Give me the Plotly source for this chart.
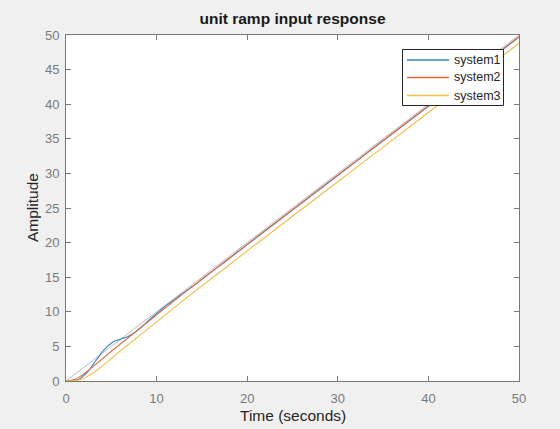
import plotly.graph_objects as go

# Time samples (seconds)
t = [0, 0.5, 1, 1.5, 2, 2.5, 3, 3.5, 4, 4.5, 5, 5.5, 6, 6.5, 7, 7.5, 8, 8.5, 9,
     10, 11, 12, 13, 14, 15, 17.5, 20, 25, 30, 35, 40, 45, 50]

# Unit ramp input (gray)
ramp_t = [0, 50]
ramp_y = [0, 50]

system1 = [0, 0.01, 0.08, 0.3, 0.8, 1.5, 2.4, 3.3, 4.2, 4.9, 5.45, 5.85, 6.05, 6.25,
           6.55, 6.95, 7.45, 8.0, 8.6, 9.75, 10.85, 11.8, 12.75, 13.7, 14.7, 17.2,
           19.7, 24.7, 29.7, 34.7, 39.7, 44.7, 49.7]
system2 = [0, 0.05, 0.25, 0.6, 1.05, 1.55, 2.1, 2.65, 3.2, 3.75, 4.3, 4.8, 5.35, 5.85,
           6.4, 6.9, 7.45, 7.95, 8.5, 9.55, 10.6, 11.65, 12.7, 13.7, 14.7, 17.2,
           19.75, 24.75, 29.75, 34.75, 39.75, 44.75, 49.75]
system3 = [0, 0.01, 0.05, 0.18, 0.4, 0.75, 1.15, 1.65, 2.15, 2.7, 3.25, 3.8, 4.35, 4.85,
           5.4, 5.9, 6.45, 6.95, 7.5, 8.55, 9.6, 10.65, 11.7, 12.75, 13.75, 16.25,
           18.8, 23.8, 28.8, 33.8, 38.8, 43.8, 48.8]

names = ["system1", "system2", "system3"]
colors = ["#2f86cc", "#de6a40", "#f0bd45"]
series = [system1, system2, system3]

x_ticks = [0, 10, 20, 30, 40, 50]
y_ticks = [0, 5, 10, 15, 20, 25, 30, 35, 40, 45, 50]

W, H = 560, 429
L, R, T, B = 66, 41, 35, 48
plot_w = W - L - R
plot_h = H - T - B
FONT = "Liberation Sans, Arial, sans-serif"


def px2x(px):
    return (px - L) / plot_w


def px2y(py):
    return (H - B - py) / plot_h


fig = go.Figure()
fig.add_trace(go.Scatter(x=ramp_t, y=ramp_y, mode="lines",
                         line=dict(color="#b8b8b8", width=1), showlegend=False,
                         hoverinfo="skip"))
for n, c, s in zip(names, colors, series):
    fig.add_trace(go.Scatter(x=t, y=s, mode="lines", name=n, showlegend=False,
                             line=dict(color=c, width=1.1, shape="spline", smoothing=0.6)))

axis_common = dict(
    showgrid=False, zeroline=False, showline=True, linecolor="#7a7a7a", linewidth=1,
    mirror="ticks", ticks="inside", ticklen=5, tickwidth=1, tickcolor="#7a7a7a",
    tickfont=dict(family=FONT, size=13, color="#7a7a7a"),
)

fig.update_layout(
    width=W, height=H,
    margin=dict(l=L, r=R, t=T, b=B),
    paper_bgcolor="#F0F0F0", plot_bgcolor="#FFFFFF",
    font=dict(family=FONT, color="#262626"),
    title=dict(text="<b>unit ramp input response</b>", x=0.5, xref="paper",
               y=1 - 18.5 / H, yref="container", yanchor="middle", xanchor="center",
               font=dict(size=15.5, color="#1a1a1a")),
    xaxis=dict(range=[0, 50], tickvals=x_ticks, ticklabelstandoff=5, **axis_common),
    yaxis=dict(range=[0, 50], tickvals=y_ticks, ticklabelstandoff=3, **axis_common),
    showlegend=False,
)

# Axis titles
fig.add_annotation(text="Time (seconds)", x=0.5, xref="paper",
                   y=px2y(415), yref="paper",
                   showarrow=False, xanchor="center", yanchor="middle",
                   font=dict(size=15.5, color="#262626"))
fig.add_annotation(text="Amplitude", x=px2x(32), xref="paper",
                   y=0.5, yref="paper", textangle=-90,
                   showarrow=False, xanchor="center", yanchor="middle",
                   font=dict(size=15.5, color="#262626"))

# Legend box (MATLAB style)
box_l, box_r, box_t, box_b = 402.5, 503.5, 49.5, 105.5
fig.add_shape(type="rect", xref="paper", yref="paper",
              x0=px2x(box_l), x1=px2x(box_r), y0=px2y(box_b), y1=px2y(box_t),
              line=dict(color="#262626", width=1), fillcolor="#FFFFFF", layer="above")
row_y = [60, 77.5, 95.5]
for n, c, ry in zip(names, colors, row_y):
    fig.add_shape(type="line", xref="paper", yref="paper",
                  x0=px2x(407), x1=px2x(449), y0=px2y(ry), y1=px2y(ry),
                  line=dict(color=c, width=1.5), layer="above")
    fig.add_annotation(text=n, x=px2x(451.5), xref="paper", y=px2y(ry), yref="paper",
                       showarrow=False, xanchor="left", yanchor="middle",
                       font=dict(size=12.5, color="#262626"))

fig.write_html("out.html")
